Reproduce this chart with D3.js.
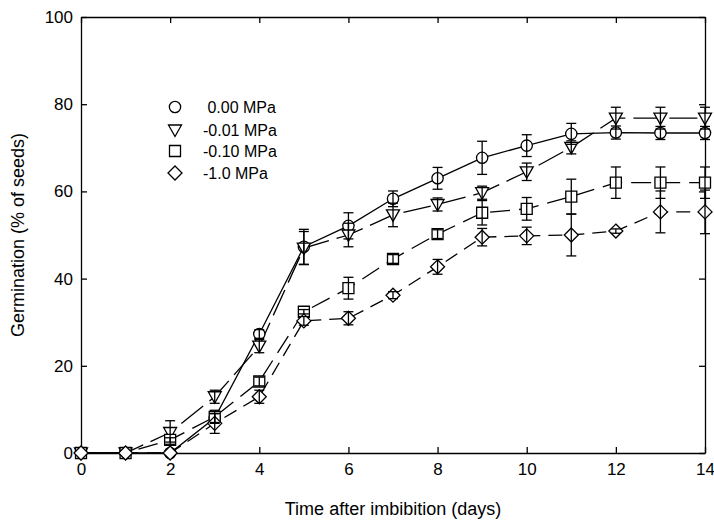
<!DOCTYPE html>
<html>
<head>
<meta charset="utf-8">
<script src="https://cdn.jsdelivr.net/npm/d3@7"></script>
<style>
    body { margin: 0; background: #fff; }
    svg text { font-family: "Liberation Sans", Arial, sans-serif; fill: #000; }
    .axis path, .axis line { stroke: #000; stroke-width: 1.3; }
    .axis text { font-size: 17px; }
</style>
</head>
<body>
<svg id="chart" width="714" height="522"></svg>
<script>
    // data
    const days = [0, 1, 2, 3, 4, 5, 6, 7, 8, 9, 10, 11, 12, 13, 14];

    const mpa000 = [0, 0, 0, 8, 27.3, 47.3, 52.1, 58.3, 63, 67.7, 70.5, 73.2, 73.5, 73.4, 73.4];
    const mpa000Err = [0, 0, 0, 1, 1, 4, 3, 1.8, 2.5, 3.8, 2.5, 2.4, 1.5, 1.5, 1.5];

    const mpa001 = [0, 0, 4.7, 12.9, 24.5, 47, 50, 54.6, 57, 59.7, 64.5, 70.1, 76.8, 76.8, 76.8];
    const mpa001Err = [0, 0, 2.7, 1.5, 1.5, 3.8, 2.7, 2.7, 1.5, 1.5, 2, 1.5, 2.5, 2.5, 2.5];

    const mpa010 = [0, 0, 3, 8.3, 16.4, 32.4, 37.8, 44.5, 50.2, 55.1, 56, 58.8, 62, 62, 62];
    const mpa010Err = [0, 0, 0.5, 1.5, 1, 0.5, 2.5, 1, 1, 2.8, 2.6, 4, 3.6, 3.6, 3.6];

    const mpa100 = [0, 0, 0, 6.8, 12.9, 30.3, 30.9, 36.2, 42.7, 49.5, 49.8, 50, 50.9, 55.3, 55.3];
    const mpa100Err = [0, 0, 0, 2.3, 1.5, 1, 1.5, 0.8, 1.7, 2, 2, 4.8, 0.5, 4.8, 5];

    const legendLabels = [" 0.00 MPa", "-0.01 MPa", "-0.10 MPa", "-1.0 MPa"];
    const xTicks = [0, 2, 4, 6, 8, 10, 12, 14];
    const yTicks = [0, 20, 40, 60, 80, 100];

    const series = [
        { name: legendLabels[0], values: mpa000, err: mpa000Err, symbol: "circle", dash: null },
        { name: legendLabels[1], values: mpa001, err: mpa001Err, symbol: "triangle", dash: "28,8" },
        { name: legendLabels[2], values: mpa010, err: mpa010Err, symbol: "square", dash: "20,9" },
        { name: legendLabels[3], values: mpa100, err: mpa100Err, symbol: "diamond", dash: "14,8" }
    ];

    const svg = d3.select("#chart");
    const plotLeft = 81, plotRight = 705, plotTop = 17, plotBottom = 453;

    const x = d3.scaleLinear().domain([0, 14]).range([plotLeft, plotRight]);
    const y = d3.scaleLinear().domain([0, 100]).range([plotBottom, plotTop]);

    // marker shapes, drawn around (0,0)
    function symbolPath(type) {
        if (type === "circle") return d3.symbol(d3.symbolCircle, 100)();
        if (type === "square") return "M-5.5,-5.5H5.5V5.5H-5.5Z";
        if (type === "diamond") return "M0,-7L7,0L0,7L-7,0Z";
        return "M-6.5,-5H6.5L0,6.5Z"; // downward triangle
    }

    // axes, ticks pointing inward
    svg.append("g").attr("class", "axis")
        .attr("transform", `translate(0,${plotBottom})`)
        .call(d3.axisBottom(x).tickValues(xTicks).tickSize(-6).tickPadding(10).tickSizeOuter(0));
    svg.append("g").attr("class", "axis")
        .attr("transform", `translate(0,${plotTop})`)
        .call(d3.axisTop(x).tickValues(xTicks).tickSize(-6).tickFormat("").tickSizeOuter(0));
    svg.append("g").attr("class", "axis")
        .attr("transform", `translate(${plotLeft},0)`)
        .call(d3.axisLeft(y).tickValues(yTicks).tickSize(-6).tickPadding(8).tickSizeOuter(0));
    svg.append("g").attr("class", "axis")
        .attr("transform", `translate(${plotRight},0)`)
        .call(d3.axisRight(y).tickValues(yTicks).tickSize(-6).tickFormat("").tickSizeOuter(0));

    // axis titles
    svg.append("text")
        .attr("x", (plotLeft + plotRight) / 2).attr("y", 515)
        .attr("text-anchor", "middle").style("font-size", "18px")
        .text("Time after imbibition (days)");
    svg.append("text")
        .attr("transform", `translate(24,${(plotTop + plotBottom) / 2}) rotate(-90)`)
        .attr("text-anchor", "middle").style("font-size", "18px")
        .text("Germination (% of seeds)");

    const line = d3.line()
        .x((d, i) => x(days[i]))
        .y(d => y(d));

    // lines first
    series.forEach(s => {
        svg.append("path")
            .datum(s.values)
            .attr("d", line)
            .attr("fill", "none")
            .attr("stroke", "#000")
            .attr("stroke-width", 1.3)
            .attr("stroke-dasharray", s.dash);
    });

    // markers
    series.forEach(s => {
        svg.append("g").selectAll("path")
            .data(s.values)
            .join("path")
            .attr("transform", (d, i) => `translate(${x(days[i])},${y(d)})`)
            .attr("d", symbolPath(s.symbol))
            .attr("fill", "#fff")
            .attr("stroke", "#000")
            .attr("stroke-width", 1.3);
    });

    // error bars on top
    series.forEach(s => {
        const g = svg.append("g").attr("stroke", "#000").attr("stroke-width", 1.3);
        const pts = s.values.map((v, i) => ({ day: days[i], v: v, e: s.err[i] })).filter(p => p.e > 0);
        g.selectAll("line.bar").data(pts).join("line")
            .attr("class", "bar")
            .attr("x1", p => x(p.day)).attr("x2", p => x(p.day))
            .attr("y1", p => y(p.v - p.e)).attr("y2", p => y(p.v + p.e));
        g.selectAll("line.capTop").data(pts).join("line")
            .attr("class", "capTop")
            .attr("x1", p => x(p.day) - 5).attr("x2", p => x(p.day) + 5)
            .attr("y1", p => y(p.v + p.e)).attr("y2", p => y(p.v + p.e));
        g.selectAll("line.capBot").data(pts).join("line")
            .attr("class", "capBot")
            .attr("x1", p => x(p.day) - 5).attr("x2", p => x(p.day) + 5)
            .attr("y1", p => y(p.v - p.e)).attr("y2", p => y(p.v - p.e));
    });

    // legend
    const legend = svg.append("g");
    const legendY = [107, 130, 151, 173];
    series.forEach((s, i) => {
        legend.append("path")
            .attr("transform", `translate(175,${legendY[i]})`)
            .attr("d", symbolPath(s.symbol))
            .attr("fill", "#fff").attr("stroke", "#000").attr("stroke-width", 1.3);
        legend.append("text")
            .attr("x", 203).attr("y", legendY[i] + 6)
            .style("font-size", "16px")
            .style("white-space", "pre")
            .text(s.name);
    });
</script>
</body>
</html>
